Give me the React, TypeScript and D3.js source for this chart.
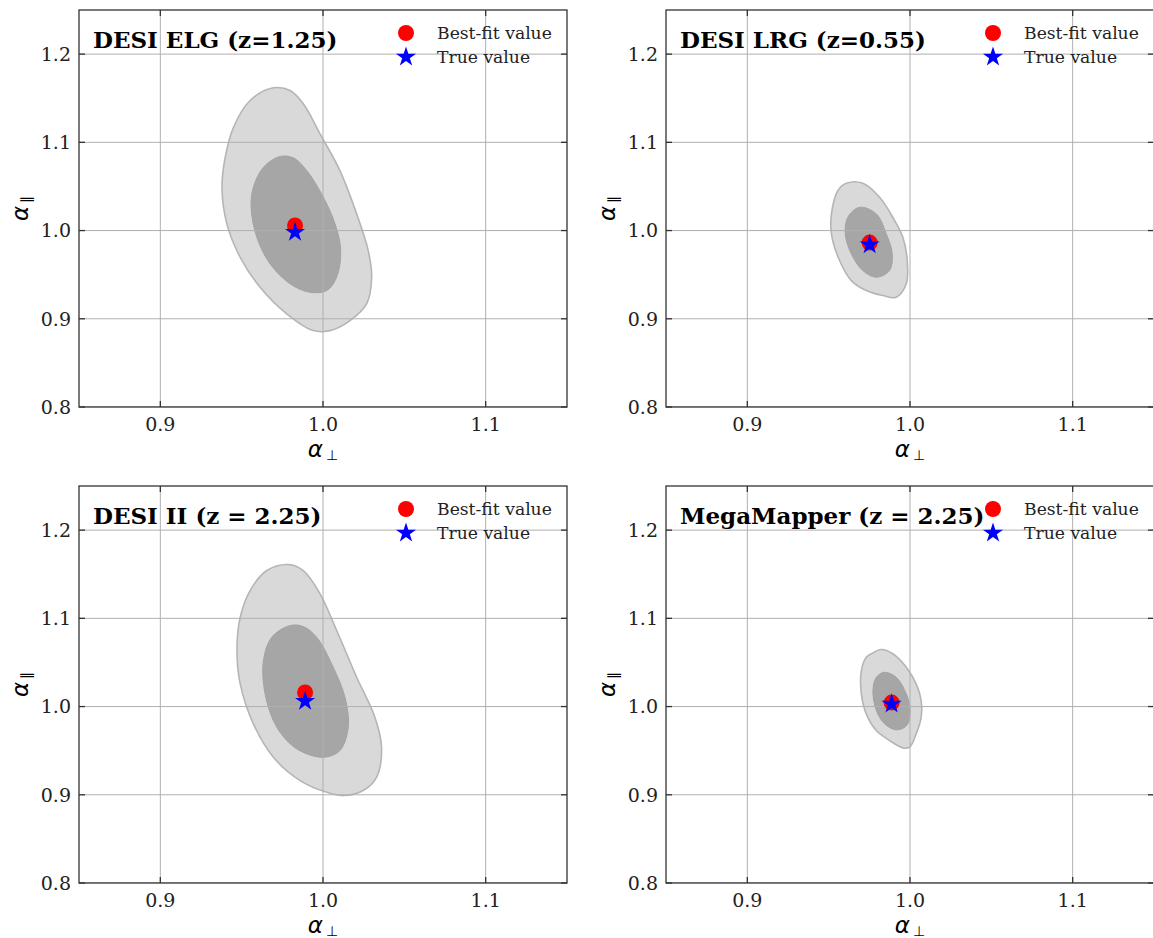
import React from 'react';
import * as d3 from 'd3';

const X_TICKS = [0.9, 1.0, 1.1];
const Y_TICKS = [0.8, 0.9, 1.0, 1.1, 1.2];
const X_DOMAIN: [number, number] = [0.85, 1.15];
const Y_DOMAIN: [number, number] = [0.8, 1.25];

const TITLES = ['DESI ELG (z=1.25)', 'DESI LRG (z=0.55)', 'DESI II (z = 2.25)', 'MegaMapper (z = 2.25)'];
const LEGEND_LABELS = ['Best-fit value', 'True value'];
const BEST_FIT: [number, number][] = [[0.9828, 1.0057], [0.9752, 0.9864], [0.989, 1.016], [0.9887, 1.0045]];
const TRUE_VALUE: [number, number][] = [[0.9828, 0.998], [0.9752, 0.984], [0.989, 1.006], [0.9887, 1.003]];

const ELG_OUTER: [number, number][] = [
  [0.9695, 1.1618], [0.9552, 1.1474], [0.945, 1.1171], [0.9399, 1.0831], [0.9379, 1.0491],
  [0.9409, 1.0076], [0.9491, 0.9697], [0.9613, 0.9357], [0.9777, 0.9056], [0.994, 0.8866],
  [1.0043, 0.8866], [1.0166, 0.898], [1.0268, 0.9169], [1.0299, 0.9471], [1.0278, 0.9773],
  [1.0207, 1.0189], [1.0104, 1.068], [0.9982, 1.1096], [0.9879, 1.1437], [0.9798, 1.1587],
];
const ELG_INNER: [number, number][] = [
  [0.9736, 1.0839], [0.9634, 1.0718], [0.9572, 1.0491], [0.9558, 1.0264], [0.9593, 0.9924],
  [0.9675, 0.9622], [0.9798, 0.9396], [0.992, 0.93], [1.0023, 0.932], [1.0084, 0.9471],
  [1.0109, 0.9773], [1.0074, 1.0076], [1.0002, 1.0378], [0.99, 1.068], [0.9818, 1.0824],
];
const LRG_OUTER: [number, number][] = [
  [0.9609, 1.0536], [0.971, 1.0536], [0.9813, 1.0378], [0.9894, 1.0151], [0.9956, 0.9924],
  [0.9983, 0.966], [0.9977, 0.9396], [0.9915, 0.9244], [0.9833, 0.9263], [0.9731, 0.932],
  [0.9639, 0.9433], [0.9567, 0.966], [0.9517, 0.9963], [0.9517, 1.0189], [0.9557, 1.0454],
];
const LRG_INNER: [number, number][] = [
  [0.969, 1.0264], [0.9793, 1.0189], [0.9854, 0.9963], [0.9891, 0.9736], [0.9874, 0.9546],
  [0.9793, 0.9471], [0.971, 0.9546], [0.9639, 0.9736], [0.9602, 0.9963], [0.9618, 1.0151],
];
const DESI2_OUTER: [number, number][] = [
  [0.9787, 1.161], [0.9655, 1.1542], [0.9552, 1.1315], [0.9491, 1.1012], [0.9471, 1.0635],
  [0.9491, 1.0257], [0.9572, 0.9804], [0.9695, 0.9425], [0.9859, 0.9161], [1.0023, 0.9028],
  [1.0125, 0.8991], [1.0247, 0.9048], [1.0329, 0.9198], [1.036, 0.9539], [1.0319, 0.9879],
  [1.0207, 1.0332], [1.0084, 1.0862], [0.9982, 1.1278], [0.9879, 1.1542],
];
const DESI2_INNER: [number, number][] = [
  [0.9798, 1.0918], [0.9685, 1.0786], [0.9634, 1.0522], [0.9644, 1.0144], [0.9716, 0.9765],
  [0.9839, 0.952], [1.0002, 0.9425], [1.0104, 0.9501], [1.0155, 0.9765], [1.0135, 1.0105],
  [1.0063, 1.0446], [0.9961, 1.0786], [0.9879, 1.0907],
];
const MM_OUTER: [number, number][] = [
  [0.9762, 1.0598], [0.9823, 1.0646], [0.9894, 1.0598], [0.9977, 1.0446], [1.0038, 1.0257],
  [1.0069, 1.0068], [1.0069, 0.9879], [1.0038, 0.969], [0.9997, 0.9539], [0.9956, 0.9532],
  [0.9874, 0.9615], [0.9793, 0.9728], [0.9731, 0.9917], [0.9701, 1.0144], [0.9701, 1.0408],
  [0.9731, 1.0559],
];
const MM_INNER: [number, number][] = [
  [0.9844, 1.0389], [0.9915, 1.0332], [0.9977, 1.0144], [1.0001, 0.9955], [0.998, 0.9785],
  [0.9915, 0.9736], [0.9844, 0.9804], [0.9793, 0.9955], [0.9772, 1.0181], [0.9793, 1.0332],
];

const OUTERS = [ELG_OUTER, LRG_OUTER, DESI2_OUTER, MM_OUTER];
const INNERS = [ELG_INNER, LRG_INNER, DESI2_INNER, MM_INNER];

const PANEL_LEFT = [79, 666];
const PANEL_TOP = [10, 486];
const PW = 488;
const PH = 397;

const SERIF = '"DejaVu Serif", serif';
const SANS = '"DejaVu Sans", sans-serif';

function Panel({ idx }: { idx: number }) {
  const col = idx % 2;
  const row = Math.floor(idx / 2);
  const left = PANEL_LEFT[col];
  const top = PANEL_TOP[row];
  const x = d3.scaleLinear().domain(X_DOMAIN).range([0, PW]);
  const y = d3.scaleLinear().domain(Y_DOMAIN).range([PH, 0]);
  const line = d3.line<[number, number]>().x(d => x(d[0])).y(d => y(d[1])).curve(d3.curveCatmullRomClosed.alpha(0.5));
  const star = d3.symbol().type(d3.symbolStar).size(125)();
  const clipId = `clip${idx}`;
  const tickLen = 6;
  const bf = BEST_FIT[idx];
  const tv = TRUE_VALUE[idx];
  return (
    <g transform={`translate(${left},${top})`}>
      <defs>
        <clipPath id={clipId}><rect x={0} y={0} width={PW} height={PH} /></clipPath>
      </defs>
      <g clipPath={`url(#${clipId})`}>
        <path d={line(OUTERS[idx]) || ''} fill="#d9d9d9" stroke="#b5b5b5" strokeWidth={1.6} />
        <path d={line(INNERS[idx]) || ''} fill="#a6a6a6" stroke="#a3a3a3" strokeWidth={1} />
        {X_TICKS.map(t => (
          <line key={'gx' + t} x1={x(t)} x2={x(t)} y1={0} y2={PH} stroke="#b0b0b0" strokeWidth={1} />
        ))}
        {Y_TICKS.map(t => (
          <line key={'gy' + t} x1={0} x2={PW} y1={y(t)} y2={y(t)} stroke="#b0b0b0" strokeWidth={1} />
        ))}
        <circle cx={x(bf[0])} cy={y(bf[1])} r={8} fill="#ff0000" />
        <path d={star || ''} transform={`translate(${x(tv[0])},${y(tv[1])})`} fill="#0000ff" />
      </g>
      {X_TICKS.map(t => (
        <g key={'tx' + t}>
          <line x1={x(t)} x2={x(t)} y1={PH} y2={PH - tickLen} stroke="#333" strokeWidth={1.3} />
          <line x1={x(t)} x2={x(t)} y1={0} y2={tickLen} stroke="#333" strokeWidth={1.3} />
          <text x={x(t)} y={PH + 24} textAnchor="middle" fontFamily={SERIF} fontSize={19} fill="#222">{t.toFixed(1)}</text>
        </g>
      ))}
      {Y_TICKS.map(t => (
        <g key={'ty' + t}>
          <line x1={0} x2={tickLen} y1={y(t)} y2={y(t)} stroke="#333" strokeWidth={1.3} />
          <line x1={PW} x2={PW - tickLen} y1={y(t)} y2={y(t)} stroke="#333" strokeWidth={1.3} />
          <text x={-8} y={y(t)} dy="0.36em" textAnchor="end" fontFamily={SERIF} fontSize={19} fill="#222">{t.toFixed(1)}</text>
        </g>
      ))}
      <rect x={0} y={0} width={PW} height={PH} fill="none" stroke="#333" strokeWidth={1.3} />
      <text x={14} y={38} fontFamily={SERIF} fontWeight="bold" fontSize={23} fill="#000">{TITLES[idx]}</text>
      <circle cx={327} cy={23} r={8} fill="#ff0000" />
      <path d={star || ''} transform={`translate(327,47)`} fill="#0000ff" />
      <text x={358} y={29} fontFamily={SERIF} fontSize={17.2} fill="#222">{LEGEND_LABELS[0]}</text>
      <text x={358} y={53} fontFamily={SERIF} fontSize={17.2} fill="#222">{LEGEND_LABELS[1]}</text>
      <text x={PW / 2} y={PH + 50} textAnchor="middle" fontFamily={SANS} fontSize={23} fill="#000">
        <tspan fontStyle="italic">α</tspan><tspan fontSize={14} dx={3} dy={3}>⊥</tspan>
      </text>
      <text transform={`translate(${-51},${PH / 2}) rotate(-90)`} textAnchor="middle" fontFamily={SANS} fontSize={23} fill="#000">
        <tspan fontStyle="italic">α</tspan><tspan fontSize={14} dx={3} dy={3}>∥</tspan>
      </text>
    </g>
  );
}

export default function App() {
  return (
    <svg width={1153} height={938} style={{ position: 'absolute', left: 0, top: 0, background: '#fff' }}>
      <rect x={0} y={0} width={1153} height={938} fill="#fff" />
      {[0, 1, 2, 3].map(i => <Panel key={i} idx={i} />)}
    </svg>
  );
}
